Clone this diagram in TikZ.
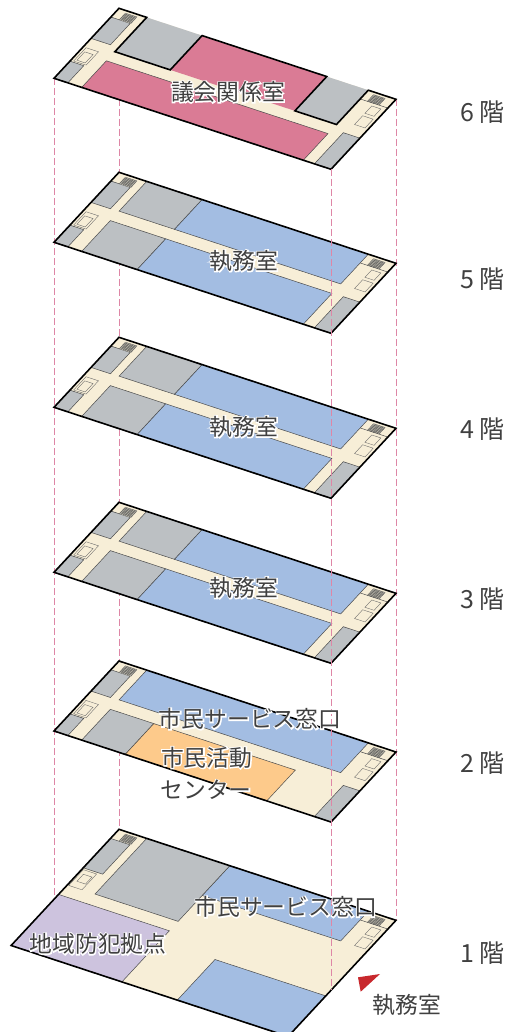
\documentclass[tikz,border=0pt]{standalone}
\usepackage{fontspec}
\newfontfamily\jpfont{Noto Sans CJK JP}
\newfontfamily\jphalo[FakeBold=10]{Noto Sans CJK JP}
\newcommand{\halo}[1]{\rlap{\color{white}\jphalo #1}#1}
\definecolor{pasillo}{HTML}{F7EED7}
\definecolor{gris}{HTML}{BCC0C3}
\definecolor{azul}{HTML}{A3BDE2}
\definecolor{rosa}{HTML}{DA7B95}
\definecolor{naranja}{HTML}{FDCA8B}
\definecolor{lila}{HTML}{CDC3DE}
\definecolor{guiarosa}{HTML}{DE86A6}
\definecolor{rojo}{HTML}{C8282D}
\definecolor{texto}{HTML}{404040}
\definecolor{peldano}{HTML}{B5B2A6}

\begin{document}
\begin{tikzpicture}[x = 1pt, y = -1pt,
    planta/.style = {cm = {2.77, -0.91, 0.65, 0.70, (119, #1)}, transform shape},
    sala/.style = {draw = black!70, line width = 0.5pt},
    borde/.style = {draw = black, line width = 1.6pt, line join = miter},
    guia/.style = {draw = guiarosa, line width = 1pt, dash pattern = on 7pt off 3pt},
    caja/.style = {draw = black!60, line width = 0.35pt},
    rotulo/.style = {font = \fontsize{22.8}{24}\selectfont\jpfont, text = texto, inner sep = 0pt},
    piso/.style = {font = \fontsize{25}{27}\selectfont\jpfont, text = texto, inner sep = 0pt}]
    \tikzset{
        escalera/.pic = {
            \fill[peldano] (0, 0) rectangle (4.2, 9.5);
            \foreach \u in {0, 0.7, ..., 4.2} \draw[black!65, line width = 0.3pt] (\u, 0) -- (\u, 9.5);
            \foreach \v in {0, 1.6, ..., 9.6} \draw[black!65, line width = 0.3pt] (0, \v) -- (4.2, \v);
        },
        nucleo/.pic = {
            % Escaleras y cajas de la derecha.
            \pic at (3, 3) {escalera};
            \pic at (92.6, 3) {escalera};
            \draw[sala] (90, 12.5) -- (100, 12.5);
            \draw[caja] (95, 16) rectangle (98.3, 26.5);
            \draw[caja] (95, 30) rectangle (98.8, 42.5);
        },
        alas/.pic = {
            % Piezas que se repiten a la izquierda y abajo a la derecha.
            \draw[sala, fill = gris] (0, 12.5) rectangle (7, 43);
            \draw[caja] (1, 55) rectangle (5.5, 74);
            \draw[caja] (1.7, 60) rectangle (4.7, 72);
            \draw[sala, fill = gris] (0, 75.5) rectangle (5, 100);
            \draw[sala, fill = gris] (94, 55.5) rectangle (100, 100);
        }
    }

    \clip (0, 0) rectangle (507, 1032);

    % Primero las guías que quedan detrás de las plantas.
    \draw[guia] (54, 78) -- (54, 898);
    \draw[guia] (119, 99) -- (119, 829);
    \draw[guia] (396, 99) -- (396, 920);

    % Planta 6:
    \begin{scope}[planta = 8.3]
        \fill[pasillo] (0, 0) rectangle (100, 100);
        \fill[gris] (10, 0) rectangle (30, 49);
        \fill[rosa] (30, 0) rectangle (75, 49);
        \fill[gris] (75, 0) rectangle (90, 49);
        \draw[sala, fill = rosa] (10, 62) rectangle (90, 100);
        \pic at (0, 0) {alas};
        \pic at (0, 0) {nucleo};
        \draw[borde] (10, 0) -- (0, 0) -- (0, 100) -- (100, 100) -- (100, 0) -- (90, 0) -- (90, 49) -- (75, 49) -- (75, 0) -- (30, 0) -- (30, 49) -- (10, 49) -- cycle;
    \end{scope}

    % Plantas 5, 4 y 3:
    \foreach \y in {172.3, 337.3, 502.3} {
        \begin{scope}[planta = \y]
            \fill[pasillo] (0, 0) rectangle (100, 100);
            \draw[sala, fill = gris] (10, 0) rectangle (30, 42.5);
            \draw[sala, fill = azul] (30, 0) rectangle (90, 42.5);
            \draw[sala, fill = gris] (10, 56) rectangle (30, 100);
            \draw[sala, fill = azul] (30, 56) rectangle (90, 100);
            \pic at (0, 0) {alas};
            \pic at (0, 0) {nucleo};
            \draw[borde] (0, 0) rectangle (100, 100);
        \end{scope}
    }

    % Planta 2:
    \begin{scope}[planta = 661]
        \fill[pasillo] (0, 0) rectangle (100, 100);
        \draw[sala, fill = azul] (10, 0) rectangle (90, 42.5);
        \draw[sala, fill = gris] (10, 56) rectangle (25.7, 100);
        \draw[sala, fill = naranja] (25.7, 56) rectangle (76.8, 100);
        \pic at (0, 0) {alas};
        \pic at (0, 0) {nucleo};
        \draw[borde] (0, 0) rectangle (100, 100);
    \end{scope}

    % Planta 1, más larga que las demás:
    \begin{scope}[planta = 829.3]
        \fill[pasillo] (0, 0) rectangle (100, 166);
        \draw[sala, fill = azul] (40, 0) rectangle (90, 42.5);
        \draw[sala, fill = gris] (10, 0) rectangle (40, 79.5);
        \draw[sala, fill = gris] (0, 13) rectangle (7, 55);
        \draw[sala, fill = lila] (0, 93) rectangle (40, 166);
        \draw[sala, fill = azul] (60, 108) rectangle (100, 166);
        \draw[caja] (0.5, 57) rectangle (5.3, 79.5);
        \draw[caja] (1.7, 62) rectangle (4.8, 72);
        \pic at (0, 0) {nucleo};
        \draw[borde] (0, 0) rectangle (100, 166);
    \end{scope}

    % Esta guía sí pasa por encima de las plantas.
    \draw[guia] (331, 169) -- (331, 990);

    \fill[rojo] (358, 977.3) -- (380, 974) -- (360.7, 991.7) -- cycle;

    % Textos:
    \node[rotulo] (kaigi) at (228, 92) {\halo{議会関係室}};
    \node[rotulo] (shitsumu5) at (244, 261) {\halo{執務室}};
    \node[rotulo] (shitsumu4) at (244, 427) {\halo{執務室}};
    \node[rotulo] (shitsumu3) at (244, 588) {\halo{執務室}};
    \node[rotulo] (madoguchi2) at (250, 719) {\halo{市民サービス窓口}};
    \node[rotulo] (katsudo) at (206.7, 757.7) {\halo{市民活動}};
    \node[rotulo] (center) at (206, 790) {\halo{センター}};
    \node[rotulo] (madoguchi1) at (285.7, 907) {\halo{市民サービス窓口}};
    \node[rotulo] (bohan) at (98, 944) {\halo{地域防犯拠点}};
    \node[rotulo] (shitsumu1) at (407, 1005) {執務室};

    \foreach \n/\y in {6/112, 5/279, 4/429, 3/599, 2/763, 1/953} {
        \node[piso] (piso\n) at (482.5, \y) {\n\ 階};
    }
\end{tikzpicture}
\end{document}
